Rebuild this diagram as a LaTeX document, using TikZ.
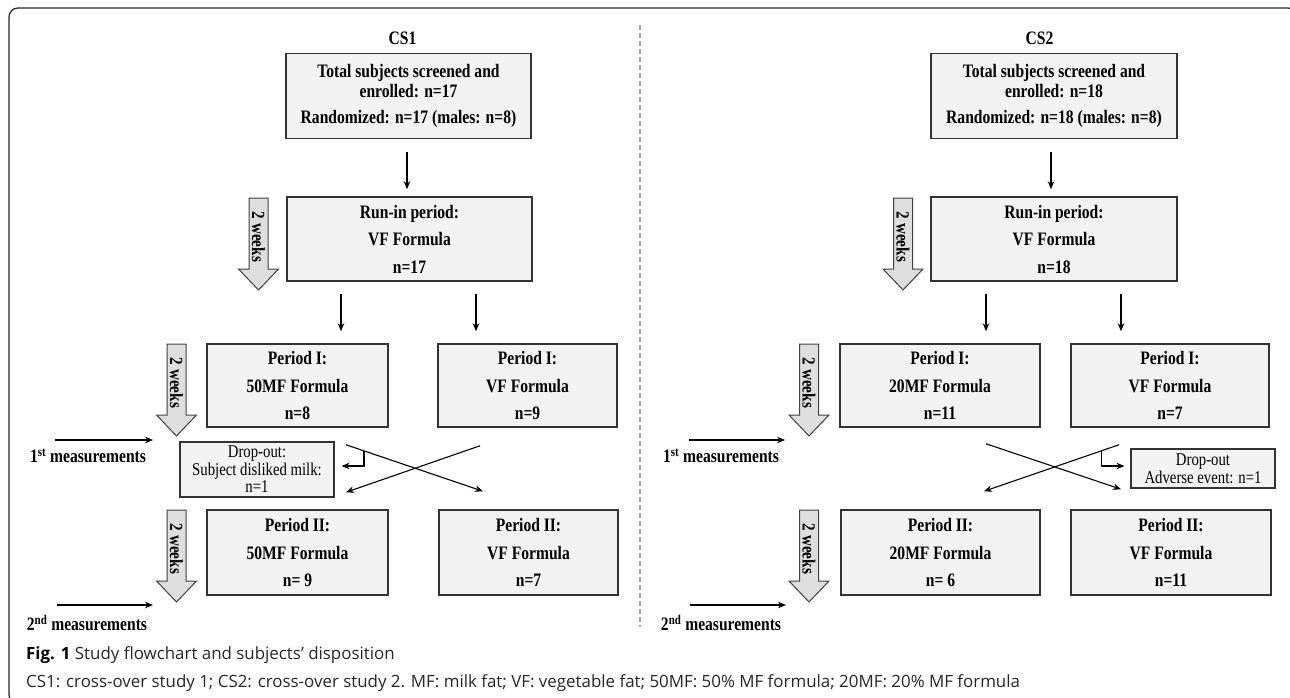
\documentclass[tikz,border=0pt]{standalone}
\usepackage{fontspec}
\setmainfont{Liberation Serif}
\newfontfamily\dfont[FakeStretch=0.82]{Liberation Serif}
\newfontfamily\capfont{Open Sans}
\usetikzlibrary{arrows.meta,calc}
\newcommand\weekarrow[3]{%
  \draw[wk] (#2-9.5,-#3) -- (#2+9.5,-#3) -- (#2+9.5,-#3-71) -- (#2+20,-#3-71) -- (#2,-#3-92) -- (#2-20,-#3-71) -- (#2-9.5,-#3-71) -- cycle;
  \node[wklbl] (#1) at (#2,-#3-39) {2 weeks};}
\begin{document}
\begin{tikzpicture}[x=1pt,y=1pt,
  box/.style={draw=black!80, line width=1.5pt, fill=black!5, inner sep=0pt, align=center,
    font={\dfont\bfseries\fontsize{19}{27.5}\selectfont}},
  drop/.style={draw=black!80, line width=1.2pt, fill=black!5, inner sep=0pt, align=center,
    font={\dfont\fontsize{18}{17.5}\selectfont}},
  lbl/.style={font={\dfont\bfseries\fontsize{19}{20}\selectfont}, inner sep=0pt},
  wklbl/.style={font={\dfont\bfseries\fontsize{18.5}{18.5}\selectfont}, inner sep=0pt, rotate=-90},
  wk/.style={draw=black!75, line width=1pt, fill=black!13},
  arr/.style={line width=1.1pt, -{Stealth[length=8pt,width=6.5pt]}},
  divider/.style={draw=black!35, line width=1.2pt, dash pattern=on 4.5pt off 3.5pt},
  frame/.style={draw=black!85, line width=1.2pt, rounded corners=9pt},
  captext/.style={anchor=base west, inner sep=0pt, text=black!85, font={\capfont\fontsize{16.9}{18}\selectfont}}
]
\useasboundingbox (0,0) rectangle (1290,-697);
\clip (0,0) rectangle (1290,-697);
\draw[frame] (9,-8) rectangle (1297,-704);
\coordinate (dv1) at (640,-25);
\coordinate (dv2) at (640,-627);
\draw[divider] (dv1) -- (dv2);

% ---------- CS1 ----------
\node[lbl] (cs1) at (402.5,-38) {CS1};
\node[box, minimum width=245pt, minimum height=85pt, font={\dfont\bfseries\fontsize{19}{20}\selectfont}] (t1) at (408.5,-96)
  {Total subjects screened and\\enrolled: n=17\\[6pt]Randomized: n=17 (males: n=8)};
\node[box, minimum width=245pt, minimum height=84pt] (r1) at (409.5,-239) {Run-in period:\\VF Formula\\n=17};
\node[box, minimum width=181pt, minimum height=83pt] (p1a) at (297.5,-385.5) {Period I:\\50MF Formula\\n=8};
\node[box, minimum width=179pt, minimum height=83pt] (p1b) at (527.5,-385.5) {Period I:\\VF Formula\\n=9};
\node[drop, minimum width=154pt, minimum height=55pt] (d1) at (257,-469.5) {Drop-out:\\Subject disliked milk:\\n=1};
\node[box, minimum width=181pt, minimum height=85pt] (q1a) at (297.5,-552.5) {Period II:\\50MF Formula\\n= 9};
\node[box, minimum width=179pt, minimum height=85pt] (q1b) at (528.5,-552.5) {Period II:\\VF Formula\\n=7};

\draw[arr, shorten <=13pt, shorten >=7pt] ([xshift=-1.5pt]t1.south) -- ([xshift=-1.5pt]t1.south |- r1.north);
\draw[arr, shorten <=12pt, shorten >=12pt] ([xshift=-68.5pt]r1.south) -- ([xshift=-68.5pt]r1.south |- p1a.north);
\draw[arr, shorten <=12pt, shorten >=12pt] ([xshift=66.5pt]r1.south) -- ([xshift=66.5pt]r1.south |- p1b.north);

\coordinate (x1s) at ($(p1a.south)+(48.5,-17)$);
\coordinate (x1e) at ($(q1b.north)+(-45.5,18)$);
\coordinate (x2s) at ($(p1b.south)+(-47.5,-18)$);
\coordinate (x2e) at ($(q1a.north)+(48.5,17)$);
\draw[arr] (x1s) -- coordinate[pos=0.131] (b1) (x1e);
\draw[arr] (x2s) -- (x2e);
\draw[arr] (b1) |- ([xshift=7pt,yshift=3.5pt]d1.east);

\weekarrow{w1}{258.5}{198}
\weekarrow{w2}{176.5}{344}
\weekarrow{w3}{176.5}{510}

\node[lbl] (m1) at (88,-456) {1\textsuperscript{st} measurements};
\coordinate (m1a) at (55,-440);
\coordinate (m1b) at (153,-440);
\draw[arr] (m1a) -- (m1b);
\node[lbl] (m2) at (87,-623) {2\textsuperscript{nd} measurements};
\coordinate (m2a) at (57,-605);
\coordinate (m2b) at (153,-605);
\draw[arr] (m2a) -- (m2b);

% ---------- CS2 ----------
\node[lbl] (cs2) at (1039.5,-38) {CS2};
\node[box, minimum width=246pt, minimum height=85pt, font={\dfont\bfseries\fontsize{19}{20}\selectfont}] (t2) at (1054,-96)
  {Total subjects screened and\\enrolled: n=18\\[6pt]Randomized: n=18 (males: n=8)};
\node[box, minimum width=246pt, minimum height=84pt] (r2) at (1054,-239) {Run-in period:\\VF Formula\\n=18};
\node[box, minimum width=200pt, minimum height=83pt] (p2a) at (940,-385.5) {Period I:\\20MF Formula\\n=11};
\node[box, minimum width=198pt, minimum height=83pt] (p2b) at (1170,-385.5) {Period I:\\VF Formula\\n=7};
\node[drop, minimum width=144pt, minimum height=39pt] (d2) at (1203,-468.5) {Drop-out\\Adverse event: n=1};
\node[box, minimum width=199pt, minimum height=85pt] (q2a) at (940.5,-552.5) {Period II:\\20MF Formula\\n= 6};
\node[box, minimum width=200pt, minimum height=85pt] (q2b) at (1171,-552.5) {Period II:\\VF Formula\\n=11};

\draw[arr, shorten <=13pt, shorten >=7pt] ([xshift=-3pt]t2.south) -- ([xshift=-3pt]t2.south |- r2.north);
\draw[arr, shorten <=12pt, shorten >=12pt] ([xshift=-68pt]r2.south) -- ([xshift=-68pt]r2.south |- p2a.north);
\draw[arr, shorten <=12pt, shorten >=12pt] ([xshift=67pt]r2.south) -- ([xshift=67pt]r2.south |- p2b.north);

\coordinate (x3s) at ($(p2a.south)+(46,-16)$);
\coordinate (x3e) at ($(q2b.north)+(-50,20)$);
\coordinate (x4s) at ($(p2b.south)+(-51,-17)$);
\coordinate (x4e) at ($(q2a.north)+(43.5,18)$);
\draw[arr] (x3s) -- (x3e);
\draw[arr] (x4s) -- coordinate[pos=0.133] (b2) (x4e);
\draw[arr] (b2) |- ([xshift=-6pt,yshift=2.5pt]d2.west);

\weekarrow{w4}{903}{198}
\weekarrow{w5}{809}{344}
\weekarrow{w6}{809}{510}

\node[lbl] (m3) at (721,-456) {1\textsuperscript{st} measurements};
\coordinate (m3a) at (689,-440);
\coordinate (m3b) at (785,-440);
\draw[arr] (m3a) -- (m3b);
\node[lbl] (m4) at (721,-623) {2\textsuperscript{nd} measurements};
\coordinate (m4a) at (690,-605);
\coordinate (m4b) at (786,-605);
\draw[arr] (m4a) -- (m4b);

% ---------- caption ----------
\node[captext] (cap1) at (26,-659) {\textbf{\color{black}Fig. 1} Study flowchart and subjects’ disposition};
\node[captext] (cap2) at (26,-687) {CS1: cross-over study 1; CS2: cross-over study 2. MF: milk fat; VF: vegetable fat; 50MF: 50\% MF formula; 20MF: 20\% MF formula};
\end{tikzpicture}
\end{document}
